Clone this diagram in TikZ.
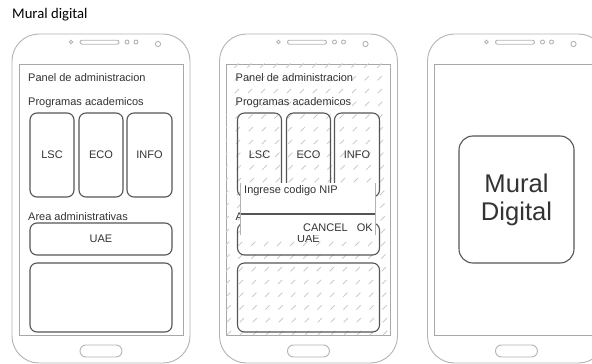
\documentclass[tikz,border=0pt]{standalone}
\usepackage{fontspec}
\setmainfont{Liberation Sans}
\newfontfamily\calibrifont{Carlito}

\definecolor{framegray}{HTML}{B4B4B4}
\definecolor{screengray}{HTML}{A8A8A8}
\definecolor{boxgray}{HTML}{555555}
\definecolor{inkgray}{HTML}{333333}
\definecolor{hatchgray}{HTML}{C4D0C4}

\tikzset{
  shell/.style={draw=framegray, line width=0.9pt},
  screen/.style={draw=screengray, line width=0.9pt},
  appbox/.style={draw=boxgray, line width=1.1pt, rounded corners=7pt, text=inkgray,
    font=\fontsize{11}{13}\selectfont},
  labeltext/.style={anchor=base west, inner sep=0pt, text=inkgray,
    font=\fontsize{11}{13}\selectfont},
  hatchline/.style={draw=hatchgray, line width=0.8pt, dash pattern=on 6pt off 12pt}
}

% phone body: #1 = name, #2 = centre x
\newcommand{\phoneshell}[2]{%
  \node[shell, rectangle, rounded corners=27pt, minimum width=178pt, minimum height=329pt,
    inner sep=0pt] (#1) at (#2,198.5) {};
  \node[screen, rectangle, minimum width=164pt, minimum height=271pt, inner sep=0pt]
    (#1scr) at (#2,199.5) {};
  \draw[shell] (#2-30,42) circle[radius=1.7];
  \draw[shell, rounded corners=2pt] (#2-21,40.2) rectangle (#2+18,44.2);
  \draw[shell] (#2+26,42) circle[radius=2];
  \draw[shell] (#2+35,42) circle[radius=2];
  \draw[shell] (#2+57,44) circle[radius=2.6];
  \draw[shell, rounded corners=6pt] (#2-21,345) rectangle (#2+21,357);
}

% admin screen content: #1 = name prefix
\newcommand{\adminpanel}[1]{%
  \node[labeltext] (#1panel) at (28,81) {Panel de administracion};
  \node[labeltext] (#1prog) at (28,105) {Programas academicos};
  \node[appbox, minimum width=44pt, minimum height=84pt] (#1lsc) at (52,155) {LSC};
  \node[appbox, minimum width=44pt, minimum height=84pt] (#1eco) at (101,155) {ECO};
  \node[appbox, minimum width=45pt, minimum height=84pt] (#1info) at (149.5,155) {INFO};
  \node[labeltext] (#1area) at (28,220) {Area administrativas};
  \node[appbox, minimum width=142pt, minimum height=32pt] (#1uae) at (101,239) {UAE};
  \node[appbox, minimum width=142pt, minimum height=69pt] (#1blank) at (101,297.5) {};
}

\begin{document}
\begin{tikzpicture}[x=1pt, y=-1pt]
\fill[white] (0,0) rectangle (592,364);
\useasboundingbox (0,0) rectangle (592,364);

\node[anchor=base west, inner sep=0pt, font=\calibrifont\fontsize{14.7}{16}\selectfont]
  (title) at (12,19) {Mural digital};

% left phone
\phoneshell{lphone}{101}
\adminpanel{l}

% middle phone with NIP dialog
\phoneshell{mphone}{308.5}
\begin{scope}
  \clip (mphonescr.south west) rectangle (mphonescr.north east);
  \foreach \k in {-22,...,12}
    \draw[hatchline] (227+\k*13,335) -- ++(280,-280);
\end{scope}
\begin{scope}[xshift=207.5pt]
  \adminpanel{m}
\end{scope}
\node[rectangle, fill=white, minimum width=134pt, minimum height=52pt, inner sep=0pt]
  (dialog) at (308,209) {};
\draw[draw=framegray, line width=0.8pt] (dialog.north west) -- (dialog.south west);
\draw[draw=framegray, line width=0.8pt] (dialog.north east) -- (dialog.south east);
\coordinate (divl) at (241,214);
\coordinate (divr) at (375,214);
\draw[draw=boxgray, line width=1.1pt] (divl) -- (divr);
\node[labeltext] (nip) at (244,193) {Ingrese codigo NIP};
\node[labeltext, anchor=base east] (cancel) at (348,231) {CANCEL};
\node[labeltext, anchor=base east] (ok) at (373,231) {OK};

% right phone
\phoneshell{rphone}{516.5}
\node[appbox, rounded corners=14pt, minimum width=115pt, minimum height=127pt,
  font=\fontsize{25.6}{28}\selectfont, align=center] (mural) at (516.5,199.5) {Mural\\Digital};
\end{tikzpicture}
\end{document}
